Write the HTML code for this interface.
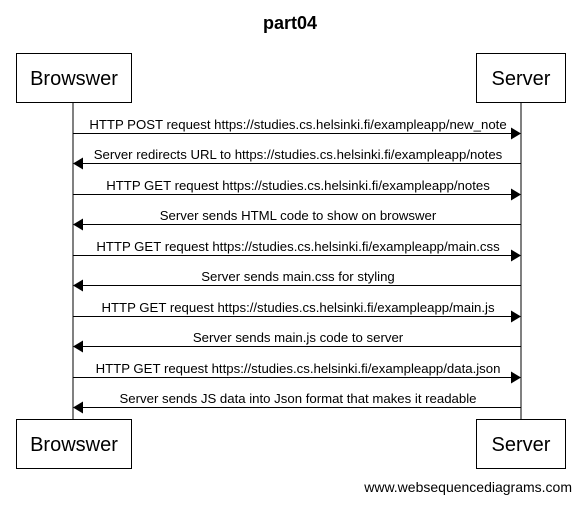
<!DOCTYPE html>
<html><head><style>body{margin:0;background:#fff}</style></head><body>
<svg width="580" height="502" xmlns="http://www.w3.org/2000/svg" font-family="Liberation Sans, Arial, sans-serif">
<text x="290" y="29" font-size="18" font-weight="bold" text-anchor="middle">part04</text>
<line x1="73" y1="102" x2="73" y2="419" stroke="#000"/>
<line x1="521" y1="102" x2="521" y2="419" stroke="#000"/>
<g fill="#fff" stroke="#000">
<rect x="16.5" y="53.5" width="115" height="49"/>
<rect x="476.5" y="53.5" width="89" height="49"/>
<rect x="16.5" y="419.5" width="115" height="49"/>
<rect x="476.5" y="419.5" width="89" height="49"/>
</g>
<g font-size="20" text-anchor="middle">
<text x="74" y="85">Browswer</text><text x="521" y="85">Server</text>
<text x="74" y="451">Browswer</text><text x="521" y="451">Server</text>
</g>
<g font-size="13.2" text-anchor="middle" stroke-width="1">
<line x1="73" y1="133.5" x2="512" y2="133.5" stroke="#000"/><polygon points="521,133.5 511,127.5 511,139.5"/>
<text x="298" y="129">HTTP POST request https://studies.cs.helsinki.fi/exampleapp/new_note</text>
<line x1="82" y1="163.5" x2="521" y2="163.5" stroke="#000"/><polygon points="73,163.5 83,157.5 83,169.5"/>
<text x="298" y="159">Server redirects URL to https://studies.cs.helsinki.fi/exampleapp/notes</text>
<line x1="73" y1="194.5" x2="512" y2="194.5" stroke="#000"/><polygon points="521,194.5 511,188.5 511,200.5"/>
<text x="298" y="190">HTTP GET request https://studies.cs.helsinki.fi/exampleapp/notes</text>
<line x1="82" y1="224.5" x2="521" y2="224.5" stroke="#000"/><polygon points="73,224.5 83,218.5 83,230.5"/>
<text x="298" y="220">Server sends HTML code to show on browswer</text>
<line x1="73" y1="255.5" x2="512" y2="255.5" stroke="#000"/><polygon points="521,255.5 511,249.5 511,261.5"/>
<text x="298" y="251">HTTP GET request https://studies.cs.helsinki.fi/exampleapp/main.css</text>
<line x1="82" y1="285.5" x2="521" y2="285.5" stroke="#000"/><polygon points="73,285.5 83,279.5 83,291.5"/>
<text x="298" y="281">Server sends main.css for styling</text>
<line x1="73" y1="316.5" x2="512" y2="316.5" stroke="#000"/><polygon points="521,316.5 511,310.5 511,322.5"/>
<text x="298" y="312">HTTP GET request https://studies.cs.helsinki.fi/exampleapp/main.js</text>
<line x1="82" y1="346.5" x2="521" y2="346.5" stroke="#000"/><polygon points="73,346.5 83,340.5 83,352.5"/>
<text x="298" y="342">Server sends main.js code to server</text>
<line x1="73" y1="377.5" x2="512" y2="377.5" stroke="#000"/><polygon points="521,377.5 511,371.5 511,383.5"/>
<text x="298" y="373">HTTP GET request https://studies.cs.helsinki.fi/exampleapp/data.json</text>
<line x1="82" y1="407.5" x2="521" y2="407.5" stroke="#000"/><polygon points="73,407.5 83,401.5 83,413.5"/>
<text x="298" y="403">Server sends JS data into Json format that makes it readable</text>
</g>
<text x="572" y="492" font-size="14" text-anchor="end">www.websequencediagrams.com</text>
</svg>
</body></html>
